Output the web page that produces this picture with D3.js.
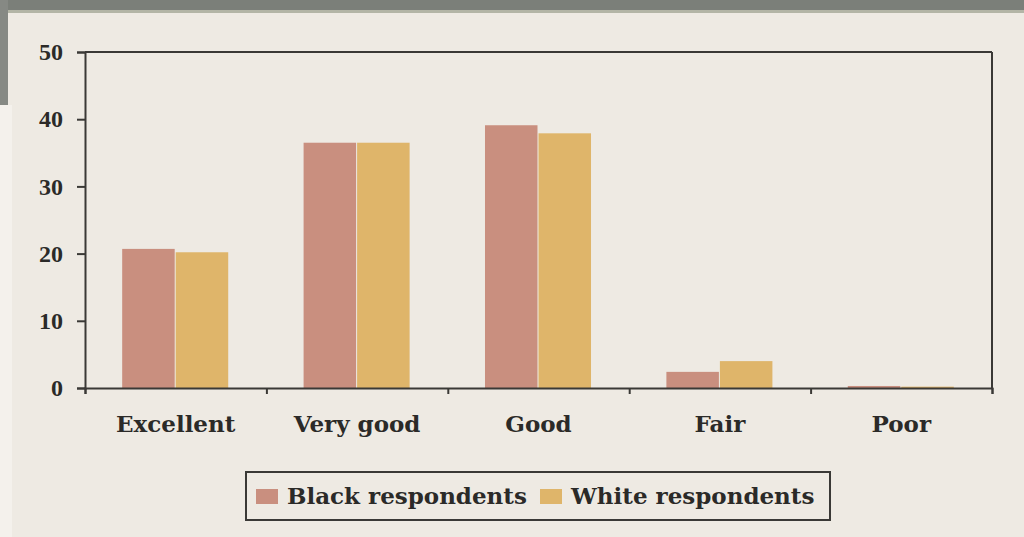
<!DOCTYPE html>
<html>
<head>
<meta charset="utf-8">
<script src="https://cdn.jsdelivr.net/npm/d3@7"></script>
<style>
  body { margin: 0; background: #eeeae3; }
  svg { display: block; }
  text { font-family: "DejaVu Serif", serif; font-weight: bold; fill: #2b2a28; }
  .tick text { font-family: "Liberation Serif", serif; }
</style>
</head>
<body>
<div id="chart"></div>
<script>
const categories = ["Excellent", "Very good", "Good", "Fair", "Poor"];
const seriesNames = ["Black respondents", "White respondents"];
const blackValues = [20.7, 36.5, 39.1, 2.4, 0.3];
const whiteValues = [20.2, 36.5, 37.9, 4.0, 0.2];
const yTicks = [0, 10, 20, 30, 40, 50];
const colors = ["#c98f7f", "#dfb56a"];

const size = { width: 1024, height: 537 };
const margin = { top: 52, right: 32, bottom: 149, left: 85 };
const innerW = size.width - margin.left - margin.right;
const innerH = size.height - margin.top - margin.bottom;

const svg = d3.select("#chart")
  .append("svg")
  .attr("width", size.width)
  .attr("height", size.height);

// photo frame bits
svg.append("rect").attr("x", 0).attr("y", 0).attr("width", size.width).attr("height", 10).attr("fill", "#7b7f79");
svg.append("rect").attr("x", 0).attr("y", 10).attr("width", size.width).attr("height", 3).attr("fill", "#b3b5a6");
svg.append("rect").attr("x", 0).attr("y", 0).attr("width", 8).attr("height", 105).attr("fill", "#868984");
svg.append("rect").attr("x", 0).attr("y", 105).attr("width", 12).attr("height", 432).attr("fill", "#f4f1ec");

const g = svg.append("g").attr("transform", `translate(${margin.left},${margin.top})`);

const x = d3.scaleBand().domain(categories).range([0, innerW]).paddingInner(0.41).paddingOuter(0.205);
const y = d3.scaleLinear().domain([0, 50]).range([innerH, 0]);
const xs = d3.scaleBand().domain(seriesNames).range([0, x.bandwidth()]);

const data = categories.map((c, i) => ({ cat: c, vals: [blackValues[i], whiteValues[i]] }));

g.selectAll(".grp")
  .data(data)
  .enter().append("g")
    .attr("transform", d => `translate(${x(d.cat)},0)`)
  .selectAll("rect")
  .data(d => d.vals.map((v, k) => ({ name: seriesNames[k], v: v, k: k })))
  .enter().append("rect")
    .attr("x", d => xs(d.name))
    .attr("y", d => y(d.v))
    .attr("width", xs.bandwidth() - 1)
    .attr("height", d => innerH - y(d.v))
    .attr("fill", d => colors[d.k]);

// frame top & right
g.append("line").attr("x1", 0).attr("x2", innerW).attr("y1", 0).attr("y2", 0).attr("stroke", "#3a3936").attr("stroke-width", 2);
g.append("line").attr("x1", innerW).attr("x2", innerW).attr("y1", 0).attr("y2", innerH).attr("stroke", "#3a3936").attr("stroke-width", 2);

const yAxis = g.append("g")
  .call(d3.axisLeft(y).tickValues(yTicks).tickSize(8).tickPadding(14));
yAxis.selectAll("text").style("font-size", "24px");

const xBoundaries = d3.scaleLinear().domain([0, categories.length]).range([0, innerW]);
const xAxis = g.append("g")
  .attr("transform", `translate(0,${innerH})`)
  .call(d3.axisBottom(xBoundaries).ticks(categories.length).tickFormat("").tickSize(6));

g.append("g")
  .selectAll("text")
  .data(categories)
  .enter().append("text")
    .attr("x", d => x(d) + x.bandwidth() / 2)
    .attr("y", innerH + 44)
    .attr("text-anchor", "middle")
    .style("font-size", "23px")
    .text(d => d);

[yAxis, xAxis].forEach(a => {
  a.selectAll("path").attr("stroke", "#3a3936").attr("stroke-width", 2);
  a.selectAll("line").attr("stroke", "#3a3936").attr("stroke-width", 2);
});

// legend
const legend = svg.append("g").attr("transform", "translate(246,472)");
legend.append("rect").attr("width", 584).attr("height", 48)
  .attr("fill", "none").attr("stroke", "#3a3936").attr("stroke-width", 2);
const items = [{ name: seriesNames[0], x: 10 }, { name: seriesNames[1], x: 294 }];
items.forEach((it, k) => {
  legend.append("rect").attr("x", it.x).attr("y", 17).attr("width", 22).attr("height", 15).attr("fill", colors[k]);
  legend.append("text").attr("x", it.x + 31).attr("y", 32).style("font-size", "23px").text(it.name);
});
</script>
</body>
</html>
